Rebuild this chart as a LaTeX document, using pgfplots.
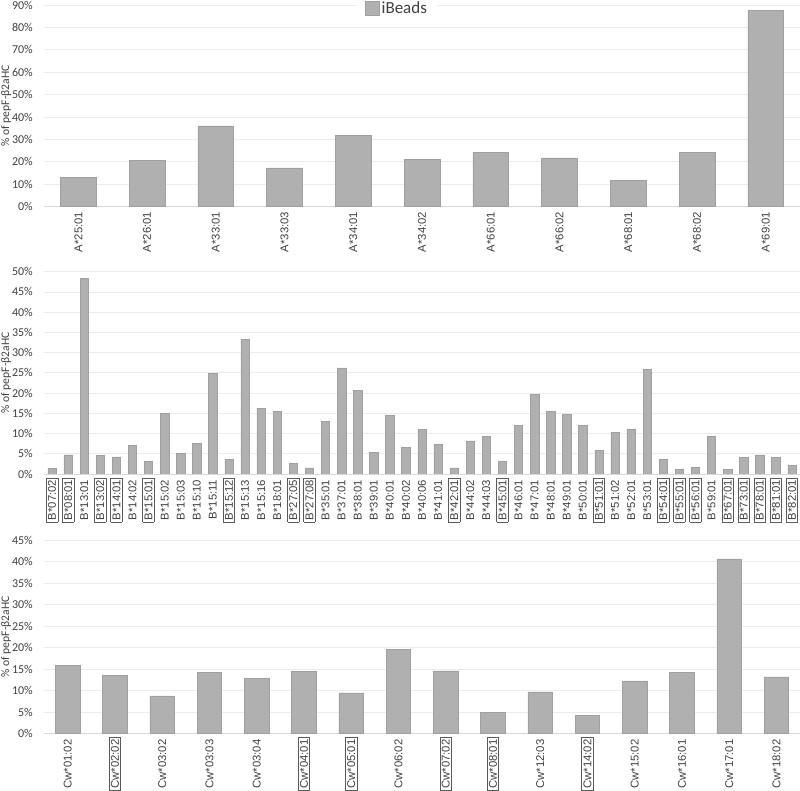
\documentclass[border=0pt]{standalone}
\usepackage{pgfplots}
\pgfplotsset{compat=1.18}
\usepackage{fontspec}
\setmainfont{Carlito}
\newfontfamily\arialfont{Liberation Sans}
\definecolor{barfill}{RGB}{176,176,176}
\definecolor{baredge}{RGB}{160,160,160}
\definecolor{gridc}{RGB}{236,236,236}
\definecolor{xline}{RGB}{217,217,217}
\definecolor{txt}{RGB}{64,64,64}
\definecolor{boxc}{RGB}{90,90,90}
\setlength{\fboxsep}{1.5pt}
\setlength{\fboxrule}{0.6pt}
\newcommand{\bx}[1]{\fcolorbox{boxc}{white}{#1}}
\newcommand{\nb}[1]{\fcolorbox{white}{white}{#1}}
\pgfplotsset{
  panel/.style={
    scale only axis, width=756pt,
    xmin=-0.5,
    ymin=0,
    ybar, bar width=0.52,
    xtick=data,
    separate axis lines,
    axis x line*=bottom, axis y line*=left,
    x axis line style={draw=xline, line width=0.8pt},
    y axis line style={draw=none},
    major tick length=0pt,
    ymajorgrids, grid style={draw=gridc, line width=0.8pt},
    tick label style={text=txt, inner sep=0pt},
    yticklabel style={font=\fontsize{12}{14}\selectfont},
    yticklabel={\pgfmathprintnumber[assume math mode=true]{\tick}\%},
    yticklabel shift=11pt,
    xticklabel style={rotate=90, anchor=east, font=\arialfont\fontsize{11.3}{13}\selectfont},
    xticklabel shift=5pt,
    ylabel={\% of pepF-β2aHC},
    ylabel style={at={(axis description cs:-0.057,0.5)}, anchor=north, inner sep=0pt, font=\fontsize{11.6}{14}\selectfont, text=txt},
  },
  barstyle/.style={fill=barfill, draw=baredge, line width=0.5pt}
}
\begin{document}
\begin{tikzpicture}
\useasboundingbox (0pt,0pt) rectangle (800pt,791pt);
% top panel
\begin{axis}[panel, at={(44pt,584.3pt)}, anchor=south west, height=201.7pt,
  xmax=10.5, ymax=90, ytick={0,10,...,90},
  xticklabels={A*25:01,A*26:01,A*33:01,A*33:03,A*34:01,A*34:02,A*66:01,A*66:02,A*68:01,A*68:02,A*69:01},
  legend style={at={(0.467,0.985)}, anchor=center, draw=none, fill=white,
    font=\fontsize{17}{19}\selectfont, text=txt, inner xsep=8pt, inner ysep=1pt},
  legend image code/.code={\draw[fill=barfill,draw=baredge,line width=0.5pt] (0pt,-7pt) rectangle (14pt,7pt);},
]
\addplot[barstyle] coordinates {(0,13.2) (1,20.7) (2,36.1) (3,17.3) (4,31.9) (5,21.2) (6,24.1) (7,21.8) (8,11.9) (9,24.4) (10,87.6)};
\addlegendentry{iBeads}
\end{axis}
% middle panel
\begin{axis}[panel, at={(44pt,317pt)}, anchor=south west, height=202.3pt,
  xmax=46.5, ymax=50, ytick={0,5,...,50},
  xticklabels={\bx{B*07:02},\bx{B*08:01},\nb{B*13:01},\bx{B*13:02},\bx{B*14:01},\nb{B*14:02},\bx{B*15:01},\nb{B*15:02},\nb{B*15:03},\nb{B*15:10},\nb{B*15:11},\bx{B*15:12},\nb{B*15:13},\nb{B*15:16},\nb{B*18:01},\bx{B*27:05},\bx{B*27:08},\nb{B*35:01},\nb{B*37:01},\nb{B*38:01},\nb{B*39:01},\nb{B*40:01},\nb{B*40:02},\nb{B*40:06},\nb{B*41:01},\bx{B*42:01},\nb{B*44:02},\nb{B*44:03},\bx{B*45:01},\nb{B*46:01},\nb{B*47:01},\nb{B*48:01},\nb{B*49:01},\nb{B*50:01},\bx{B*51:01},\nb{B*51:02},\nb{B*52:01},\nb{B*53:01},\bx{B*54:01},\bx{B*55:01},\bx{B*56:01},\nb{B*59:01},\bx{B*67:01},\bx{B*73:01},\bx{B*78:01},\bx{B*81:01},\bx{B*82:01}},
  xticklabel shift=3.5pt,
]
\addplot[barstyle] coordinates {(0,1.4) (1,4.7) (2,48.4) (3,4.6) (4,4.2) (5,7.0) (6,3.2) (7,15.0) (8,5.1) (9,7.6) (10,24.8) (11,3.7) (12,33.3) (13,16.3) (14,15.5) (15,2.7) (16,1.5) (17,13.0) (18,26.2) (19,20.7) (20,5.4) (21,14.5) (22,6.5) (23,11.0) (24,7.4) (25,1.5) (26,8.2) (27,9.3) (28,3.1) (29,12.1) (30,19.6) (31,15.4) (32,14.8) (33,12.0) (34,5.9) (35,10.2) (36,11.1) (37,25.9) (38,3.6) (39,1.2) (40,1.7) (41,9.4) (42,1.2) (43,4.1) (44,4.7) (45,4.1) (46,2.1)};
\end{axis}
% bottom panel
\begin{axis}[panel, at={(44pt,57.3pt)}, anchor=south west, height=193.7pt,
  xmax=15.5, ymax=45, ytick={0,5,...,45},
  xticklabels={\nb{Cw*01:02},\bx{Cw*02:02},\nb{Cw*03:02},\nb{Cw*03:03},\nb{Cw*03:04},\bx{Cw*04:01},\bx{Cw*05:01},\nb{Cw*06:02},\bx{Cw*07:02},\bx{Cw*08:01},\nb{Cw*12:03},\bx{Cw*14:02},\nb{Cw*15:02},\nb{Cw*16:01},\nb{Cw*17:01},\nb{Cw*18:02}},
  xticklabel shift=3.5pt,
]
\addplot[barstyle] coordinates {(0,15.9) (1,13.6) (2,8.8) (3,14.3) (4,12.8) (5,14.4) (6,9.5) (7,19.6) (8,14.6) (9,4.9) (10,9.7) (11,4.3) (12,12.3) (13,14.3) (14,40.6) (15,13.2)};
\end{axis}
\end{tikzpicture}
\end{document}
